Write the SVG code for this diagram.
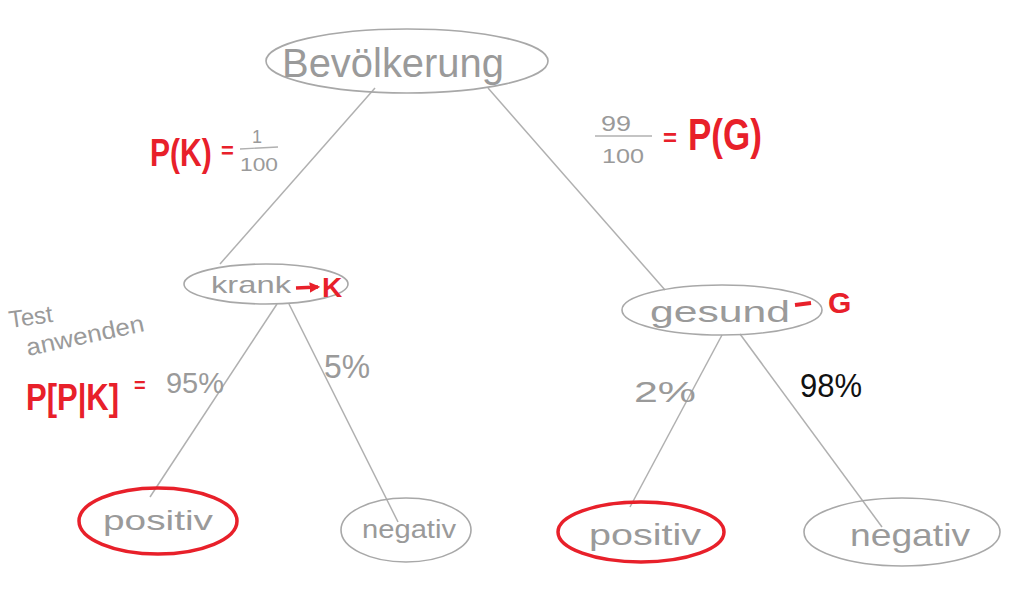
<svg xmlns="http://www.w3.org/2000/svg" width="1016" height="595" viewBox="0 0 1016 595">
<style>
.node{fill:none;stroke:#a8a8a8;stroke-width:1.6}
.red{fill:none;stroke:#e8202a;stroke-width:3.5}
.t{font-family:"Liberation Sans",Arial,sans-serif;fill:#9a9a9a}
.r{font-family:"Liberation Sans",Arial,sans-serif;fill:#e8202a;font-weight:bold}
.k{font-family:"Liberation Sans",Arial,sans-serif;fill:#111}
.conn line{stroke:#b0b0b0;stroke-width:1.5}
</style>
<defs>
<marker id="ah" viewBox="0 0 10 10" refX="8" refY="5" markerWidth="3" markerHeight="3" orient="auto">
<path d="M0,0 L10,5 L0,10 z" fill="#e8202a"/>
</marker>
</defs>
<rect width="1016" height="595" fill="#fff"/>
<g class="conn" id="connectors">
<line x1="375" y1="88" x2="220" y2="264"/>
<line x1="488" y1="88" x2="665" y2="290"/>
<line x1="277" y1="304" x2="150" y2="497"/>
<line x1="289" y1="304" x2="398" y2="522"/>
<line x1="722" y1="335" x2="630" y2="507"/>
<line x1="740" y1="334" x2="882" y2="527"/>
</g>
<g id="n-bevoelkerung">
<ellipse class="node" cx="407" cy="61" rx="141" ry="32"/>
<text class="t" x="282" y="77" font-size="40" textLength="222" lengthAdjust="spacingAndGlyphs">Bevölkerung</text>
</g>
<g id="n-krank">
<ellipse class="node" cx="266" cy="284" rx="82" ry="20"/>
<text class="t" x="211" y="293" font-size="24" textLength="80" lengthAdjust="spacingAndGlyphs">krank</text>
<line x1="296" y1="288" x2="318" y2="287" stroke="#e8202a" stroke-width="3.5" marker-end="url(#ah)"/>
<text class="r" x="322" y="297" font-size="28">K</text>
</g>
<g id="n-gesund">
<ellipse class="node" cx="722" cy="310" rx="100" ry="25"/>
<text class="t" x="650" y="322" font-size="30" textLength="140" lengthAdjust="spacingAndGlyphs">gesund</text>
<line x1="795" y1="305" x2="811" y2="303" stroke="#e8202a" stroke-width="4"/>
<text class="r" x="828" y="313" font-size="30">G</text>
</g>
<g id="n-positiv-1">
<ellipse class="red" cx="158" cy="521" rx="79" ry="33"/>
<text class="t" x="103" y="530" font-size="28" textLength="110" lengthAdjust="spacingAndGlyphs">positiv</text>
</g>
<g id="n-negativ-1">
<ellipse class="node" cx="406" cy="530" rx="65" ry="32"/>
<text class="t" x="362" y="538" font-size="26" textLength="94" lengthAdjust="spacingAndGlyphs">negativ</text>
</g>
<g id="n-positiv-2">
<ellipse class="red" cx="641" cy="532" rx="83" ry="30"/>
<text class="t" x="589" y="545" font-size="30" textLength="112" lengthAdjust="spacingAndGlyphs">positiv</text>
</g>
<g id="n-negativ-2">
<ellipse class="node" cx="902" cy="532" rx="98" ry="34"/>
<text class="t" x="850" y="546" font-size="32" textLength="120" lengthAdjust="spacingAndGlyphs">negativ</text>
</g>
<g id="labels">
<text class="r" font-size="30" transform="translate(150,166) scale(1,1.3)">P(K)</text>
<text class="r" x="221" y="158" font-size="22">=</text>
<text class="t" x="252" y="143" font-size="18">1</text>
<line x1="240" y1="149" x2="278" y2="147" stroke="#b0b0b0" stroke-width="1.3"/>
<text class="t" x="240" y="171" font-size="18" textLength="38" lengthAdjust="spacingAndGlyphs">100</text>
<text class="t" x="601" y="131" font-size="22" textLength="30" lengthAdjust="spacingAndGlyphs">99</text>
<line x1="595" y1="136" x2="652" y2="136" stroke="#b0b0b0" stroke-width="1.3"/>
<text class="t" x="602" y="163" font-size="20" textLength="42" lengthAdjust="spacingAndGlyphs">100</text>
<text class="r" x="663" y="146" font-size="24">=</text>
<text class="r" font-size="35" transform="translate(688,150) scale(1,1.25)">P(G)</text>
<text class="t" x="10" y="328" font-size="24" transform="rotate(-8 10 328)">Test</text>
<text class="t" x="28" y="356" font-size="24" transform="rotate(-12 28 356)" textLength="120" lengthAdjust="spacingAndGlyphs">anwenden</text>
<text class="r" font-size="31" transform="translate(26,410) scale(1,1.2)">P[P|K]</text>
<text class="r" x="134" y="392" font-size="20">=</text>
<text class="t" x="166" y="393" font-size="30" textLength="58" lengthAdjust="spacingAndGlyphs">95%</text>
<text class="t" x="324" y="378" font-size="34" textLength="46" lengthAdjust="spacingAndGlyphs">5%</text>
<text class="t" x="634" y="402" font-size="30" textLength="62" lengthAdjust="spacingAndGlyphs">2%</text>
<text class="k" x="800" y="397" font-size="34" textLength="62" lengthAdjust="spacingAndGlyphs">98%</text>
</g>
</svg>
